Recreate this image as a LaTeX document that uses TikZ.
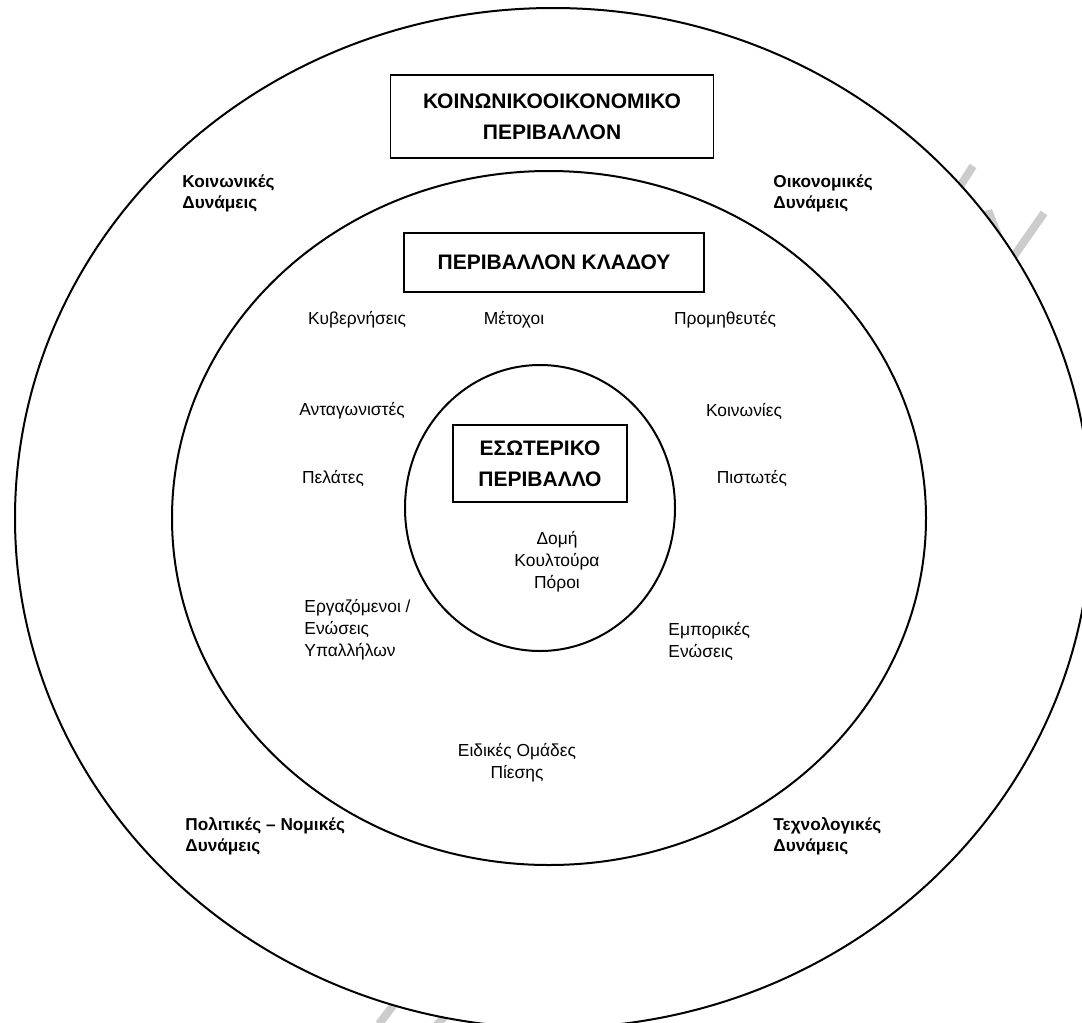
\documentclass[tikz,border=0pt]{standalone}
\usepackage{fontspec}
\setmainfont{Liberation Sans}
\usetikzlibrary{positioning}

\tikzset{
  ring/.style={line width=1pt},
  stamp/.style={black!20, line width=4pt},
  titlebox/.style={draw, line width=0.9pt, align=center, inner sep=0pt,
    font=\bfseries\fontsize{10.5}{15.5}\selectfont},
  force/.style={align=left, inner sep=0pt, font=\bfseries\fontsize{8.6}{10.5}\selectfont},
  actor/.style={align=center, inner sep=0pt, font=\fontsize{8.7}{11}\selectfont},
  actorl/.style={actor, align=left, anchor=west}
}

\begin{document}
\begin{tikzpicture}[x=0.5pt, y=-0.5pt]
  \useasboundingbox (0,0) rectangle (1082,1023);

  % faint stamp behind the rings
  \draw[stamp] (973,166) -- (950,202);
  \draw[stamp] (1044,213) -- (1000,276);
  \fill[black!20] (981,212) -- (992,209) -- (1004,240) -- (990,244) -- cycle;
  \draw[stamp] (379,1024) -- (402,994);
  \draw[stamp] (436,1026) -- (452,1008);

  % the three environments
  \draw[ring, fill=white] (553,518) ellipse [x radius=538, y radius=510];
  \draw[ring] (549,518) ellipse [x radius=377, y radius=347];
  \draw[ring] (540,508) ellipse [x radius=135, y radius=143];

  % titles
  \node[titlebox, minimum width=161.5pt, minimum height=41.5pt] (macro) at (552,116.5)
    {ΚΟΙΝΩΝΙΚΟΟΙΚΟΝΟΜΙΚΟ\\ΠΕΡΙΒΑΛΛΟΝ};
  \node[titlebox, minimum width=150pt, minimum height=29.5pt] (industry) at (554,262.5)
    {ΠΕΡΙΒΑΛΛΟΝ ΚΛΑΔΟΥ};
  \node[titlebox, minimum width=87pt, minimum height=38.5pt] (internal) at (540,463.5)
    {ΕΣΩΤΕΡΙΚΟ\\ΠΕΡΙΒΑΛΛΟ};

  % forces of the outer ring
  \node[force, anchor=west] (social) at (182,193) {Κοινωνικές\\Δυνάμεις};
  \node[force, anchor=west] (economic) at (773,193) {Οικονομικές\\Δυνάμεις};
  \node[force, anchor=west] (political) at (185,836) {Πολιτικές – Νομικές\\Δυνάμεις};
  \node[force, anchor=west] (techno) at (773,836) {Τεχνολογικές\\Δυνάμεις};

  % actors of the industry
  \node[actor] (govs) at (357,320) {Κυβερνήσεις};
  \node[actor] (holders) at (514,320) {Μέτοχοι};
  \node[actor] (suppliers) at (725,320) {Προμηθευτές};
  \node[actor] (rivals) at (352,411) {Ανταγωνιστές};
  \node[actor] (communities) at (744,411) {Κοινωνίες};
  \node[actor] (clients) at (333,478) {Πελάτες};
  \node[actor] (creditors) at (752,478) {Πιστωτές};
  \node[actorl] (staff) at (304,630) {Εργαζόμενοι /\\Ενώσεις\\Υπαλλήλων};
  \node[actorl] (unions) at (668,641) {Εμπορικές\\Ενώσεις};
  \node[actor] (lobbies) at (517,763) {Ειδικές Ομάδες\\Πίεσης};

  % inside the firm
  \node[actor] (assets) at (557,562) {Δομή\\Κουλτούρα\\Πόροι};
\end{tikzpicture}
\end{document}
